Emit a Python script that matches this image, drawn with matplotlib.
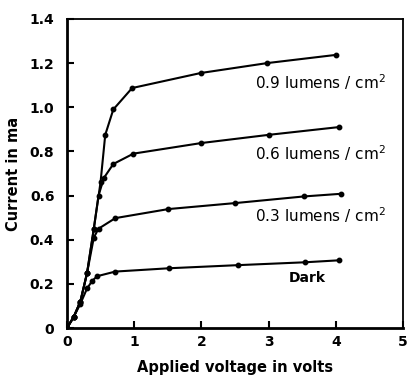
import matplotlib.pyplot as plt

# Photocurrent vs. applied voltage at several illumination levels
dark_v = [0, 0.1, 0.2, 0.3, 0.38, 0.45, 0.72, 1.52, 2.54, 3.54, 4.05]
dark_i = [0, 0.05, 0.11, 0.18, 0.215, 0.235, 0.256, 0.271, 0.285, 0.298, 0.307]

lum3_v = [0, 0.1, 0.2, 0.3, 0.4, 0.47, 0.72, 1.51, 2.5, 3.52, 4.07]
lum3_i = [0, 0.05, 0.12, 0.25, 0.41, 0.45, 0.498, 0.539, 0.566, 0.596, 0.608]

lum6_v = [0, 0.1, 0.2, 0.3, 0.4, 0.47, 0.55, 0.69, 0.99, 2.0, 3.0, 4.04]
lum6_i = [0, 0.05, 0.12, 0.25, 0.45, 0.6, 0.68, 0.743, 0.79, 0.838, 0.875, 0.91]

lum9_v = [0, 0.1, 0.2, 0.3, 0.4, 0.5, 0.57, 0.69, 0.97, 1.99, 2.98, 4.0]
lum9_i = [0, 0.05, 0.12, 0.25, 0.45, 0.66, 0.875, 0.99, 1.087, 1.155, 1.2, 1.237]

curve_labels = ["Dark", "0.3 lumens / cm$^2$",
                "0.6 lumens / cm$^2$", "0.9 lumens / cm$^2$"]
label_xy = [(3.3, 0.225), (2.8, 0.51), (2.8, 0.79), (2.8, 1.115)]

x_ticks = [0, 1, 2, 3, 4, 5]
y_ticks = [0, 0.2, 0.4, 0.6, 0.8, 1.0, 1.2, 1.4]
y_ticklabels = ["0", "0.2", "0.4", "0.6", "0.8", "1.0", "1.2", "1.4"]

fig = plt.figure(figsize=(4.08, 3.78), dpi=100)
ax = fig.add_axes([0.164, 0.132, 0.824, 0.818])

for v, i in [(dark_v, dark_i), (lum3_v, lum3_i), (lum6_v, lum6_i), (lum9_v, lum9_i)]:
    ax.plot(v, i, color='black', lw=1.5, marker='o', ms=3.2, solid_joinstyle='round')

for text, (x, y) in zip(curve_labels, label_xy):
    if text == "Dark":
        ax.text(x, y, text, fontsize=10, fontweight='bold', va='center', ha='left')
    else:
        ax.text(x, y, text, fontsize=11, va='center', ha='left')

ax.set_xlim(0, 5)
ax.set_ylim(0, 1.4)
ax.set_xticks(x_ticks)
ax.set_yticks(y_ticks)
ax.set_yticklabels(y_ticklabels)
ax.tick_params(direction='in', length=5, width=1.5, labelsize=10)
ax.tick_params(axis='y', pad=9)
ax.tick_params(axis='x', pad=5)
for lbl in ax.get_xticklabels() + ax.get_yticklabels():
    lbl.set_fontweight('bold')
for side in ['left', 'bottom']:
    ax.spines[side].set_linewidth(2)
for side in ['top', 'right']:
    ax.spines[side].set_linewidth(1.3)

ax.set_xlabel("Applied voltage in volts", fontsize=10.5, fontweight='bold', labelpad=8)
ax.set_ylabel("Current in ma", fontsize=10.5, fontweight='bold', labelpad=6)

fig.savefig("out.png", dpi=100)
